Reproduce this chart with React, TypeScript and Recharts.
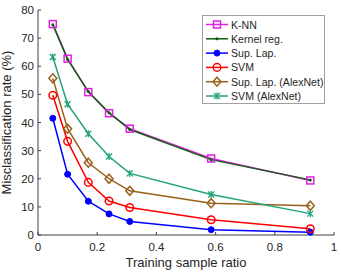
import React from "react";
import { LineChart, Line, XAxis, YAxis } from "recharts";

const ratios = [0.05, 0.1, 0.17, 0.24, 0.31, 0.585, 0.92];
const knn = [75, 62.7, 50.8, 43.3, 37.8, 27.2, 19.4];
const kernelReg = [74.8, 62.4, 51, 43.5, 37.5, 26.8, 19.6];
const supLap = [41.5, 21.6, 12, 7.5, 4.8, 1.9, 1.0];
const svm = [49.7, 33.3, 18.7, 12.1, 9.8, 5.4, 2.2];
const supLapAlex = [55.7, 37.8, 25.7, 20, 15.7, 11.3, 10.4];
const svmAlex = [63.3, 46.5, 36, 27.9, 21.9, 14.4, 7.6];

const xTicks = [0, 0.2, 0.4, 0.6, 0.8, 1];
const yTicks = [0, 10, 20, 30, 40, 50, 60, 70, 80];

const data = ratios.map((r, i) => ({
  r,
  knn: knn[i],
  kernel: kernelReg[i],
  supLap: supLap[i],
  svm: svm[i],
  supLapAlex: supLapAlex[i],
  svmAlex: svmAlex[i],
}));

type MarkerKind = "square" | "dot" | "filled" | "circle" | "diamond" | "star";

const series: { key: string; name: string; color: string; marker: MarkerKind }[] = [
  { key: "knn", name: "K-NN", color: "#dd22dd", marker: "square" },
  { key: "kernel", name: "Kernel reg.", color: "#0d5e0d", marker: "dot" },
  { key: "supLap", name: "Sup. Lap.", color: "#0000ff", marker: "filled" },
  { key: "svm", name: "SVM", color: "#ff0000", marker: "circle" },
  { key: "supLapAlex", name: "Sup. Lap. (AlexNet)", color: "#99601a", marker: "diamond" },
  { key: "svmAlex", name: "SVM (AlexNet)", color: "#23a37a", marker: "star" },
];

const TXT = "#262626";
const AX = "#404040";
const FONT = "'Liberation Sans', Arial, sans-serif";

function Marker({ kind, cx, cy, color }: { kind: MarkerKind; cx: number; cy: number; color: string }) {
  switch (kind) {
    case "square":
      return <rect x={cx - 3.5} y={cy - 3.5} width={7} height={7} fill="none" stroke={color} strokeWidth={1.5} />;
    case "dot":
      return <circle cx={cx} cy={cy} r={1.5} fill={color} />;
    case "filled":
      return <circle cx={cx} cy={cy} r={3} fill={color} stroke={color} />;
    case "circle":
      return <circle cx={cx} cy={cy} r={3.8} fill="none" stroke={color} strokeWidth={1.5} />;
    case "diamond":
      return (
        <polygon
          points={`${cx},${cy - 4.5} ${cx + 4},${cy} ${cx},${cy + 4.5} ${cx - 4},${cy}`}
          fill="none"
          stroke={color}
          strokeWidth={1.5}
        />
      );
    case "star":
      return (
        <g stroke={color} strokeWidth={1.3}>
          <line x1={cx - 3} y1={cy - 3} x2={cx + 3} y2={cy + 3} />
          <line x1={cx - 3} y1={cy + 3} x2={cx + 3} y2={cy - 3} />
          <line x1={cx} y1={cy - 3.5} x2={cx} y2={cy + 3.5} />
        </g>
      );
  }
  return null;
}

const makeDot = (kind: MarkerKind, color: string) => (props: any) => {
  const { cx, cy, index } = props;
  if (cx == null || cy == null) return <g key={`e${index}`} />;
  return (
    <g key={`${kind}-${index}`}>
      <Marker kind={kind} cx={cx} cy={cy} color={color} />
    </g>
  );
};

const BottomTick = (props: any) => {
  const { x, y, payload } = props;
  return (
    <g>
      <line x1={x} x2={x} y1={y} y2={y - 3} stroke={AX} strokeWidth={1} />
      <text x={x} y={y + 16} textAnchor="middle" fill={TXT} fontSize={11.5} fontFamily={FONT}>
        {String(payload.value)}
      </text>
    </g>
  );
};

const LeftTick = (props: any) => {
  const { x, y, payload } = props;
  return (
    <g>
      <line x1={x} x2={x + 3} y1={y} y2={y} stroke={AX} strokeWidth={1} />
      <text x={x - 4} y={y + 4} textAnchor="end" fill={TXT} fontSize={11.5} fontFamily={FONT}>
        {String(payload.value)}
      </text>
    </g>
  );
};

const TopTick = (props: any) => {
  const { x, y } = props;
  return <line x1={x} x2={x} y1={y} y2={y + 3} stroke={AX} strokeWidth={1} />;
};

const RightTick = (props: any) => {
  const { x, y } = props;
  return <line x1={x} x2={x - 3} y1={y} y2={y} stroke={AX} strokeWidth={1} />;
};

const LegendBox = () => (
  <svg width={124} height={90} style={{ display: "block", overflow: "visible" }}>
    <rect x={0.5} y={0.5} width={122} height={88} fill="#ffffff" stroke="#a0a0a0" strokeWidth={1} />
    {series.map((s, i) => {
      const cy = 9.5 + i * 14.3;
      return (
        <g key={s.key}>
          <line x1={4} x2={26} y1={cy} y2={cy} stroke={s.color} strokeWidth={1.5} />
          <Marker kind={s.marker} cx={15} cy={cy} color={s.color} />
          <text x={29} y={cy + 4} fill={TXT} fontSize={10.6} fontFamily={FONT}>
            {s.name}
          </text>
        </g>
      );
    })}
  </svg>
);

export default function App() {
  return (
    <div style={{ position: "absolute", left: 0, top: 0, width: 341, height: 273, background: "#fff" }}>
      <LineChart width={341} height={273} data={data} margin={{ top: 10, right: 7, bottom: 0, left: 0 }}>
        <XAxis
          dataKey="r"
          type="number"
          domain={[0, 1]}
          ticks={xTicks}
          height={38}
          tickSize={0}
          tickMargin={0}
          tickLine={false}
          tick={<BottomTick />}
          axisLine={{ stroke: AX, strokeWidth: 1 }}
          label={{
            value: "Training sample ratio",
            position: "insideBottom",
            offset: 6,
            fill: TXT,
            fontSize: 13,
            fontFamily: FONT,
          }}
        />
        <XAxis
          xAxisId="top"
          orientation="top"
          dataKey="r"
          type="number"
          domain={[0, 1]}
          ticks={xTicks}
          height={0}
          tickSize={0}
          tickMargin={0}
          tickLine={false}
          tick={<TopTick />}
          axisLine={{ stroke: AX, strokeWidth: 1 }}
        />
        <YAxis
          type="number"
          domain={[0, 80]}
          ticks={yTicks}
          width={38}
          tickSize={0}
          tickMargin={0}
          tickLine={false}
          tick={<LeftTick />}
          axisLine={{ stroke: AX, strokeWidth: 1 }}
          label={{
            value: "Misclassification rate (%)",
            angle: -90,
            position: "insideLeft",
            offset: 0,
            dx: 6,
            style: { textAnchor: "middle" },
            fill: TXT,
            fontSize: 13,
            fontFamily: FONT,
          }}
        />
        <YAxis
          yAxisId="right"
          orientation="right"
          type="number"
          domain={[0, 80]}
          ticks={yTicks}
          width={0}
          tickSize={0}
          tickMargin={0}
          tickLine={false}
          tick={<RightTick />}
          axisLine={{ stroke: AX, strokeWidth: 1 }}
        />
        {series.map((s) => (
          <Line
            key={s.key}
            dataKey={s.key}
            name={s.name}
            stroke={s.color}
            strokeWidth={1.5}
            isAnimationActive={false}
            dot={makeDot(s.marker, s.color)}
            activeDot={false}
          />
        ))}
      </LineChart>
      <div style={{ position: "absolute", left: 202, top: 15 }}>
        <LegendBox />
      </div>
    </div>
  );
}
